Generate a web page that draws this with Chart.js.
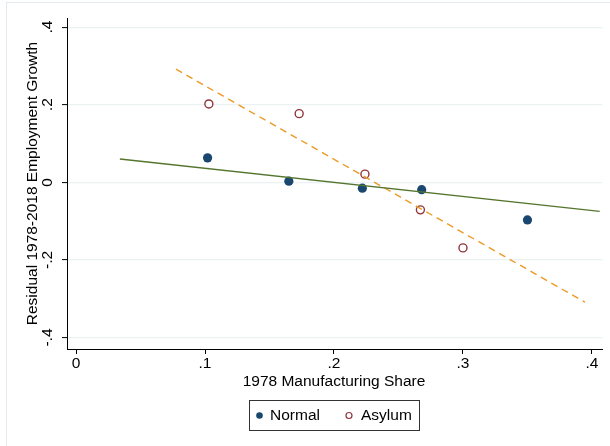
<!DOCTYPE html>
<html>
<head>
<meta charset="utf-8">
<script src="https://cdn.jsdelivr.net/npm/chart.js@4"></script>
<style>
  html, body { margin: 0; padding: 0; background: #ffffff; }
  #wrap { width: 610px; height: 446px; }
</style>
</head>
<body>
<div id="wrap"><canvas id="fitChart" width="610" height="446"></canvas></div>
<script>
// values
let normalX = [0.102, 0.165, 0.222, 0.268, 0.350];
let normalY = [0.063, 0.003, -0.015, -0.019, -0.097];
let asylumX = [0.103, 0.173, 0.224, 0.267, 0.300];
let asylumY = [0.202, 0.177, 0.021, -0.071, -0.169];

// fitted lines (end points)
let normalFitX = [0.034, 0.406];
let normalFitY = [0.060, -0.075];
let asylumFitX = [0.0775, 0.3946];
let asylumFitY = [0.2915, -0.309];

let xTicks = [0, 0.1, 0.2, 0.3, 0.4];
let yTicks = [-0.4, -0.2, 0, 0.2, 0.4];
let xTickLabels = ['0', '.1', '.2', '.3', '.4'];
let yTickLabels = ['-.4', '-.2', '0', '.2', '.4'];

let xTitle = '1978 Manufacturing Share';
let yTitle = 'Residual 1978-2018 Employment Growth';

let navy = '#1a476f';
let maroon = '#90353b';
let green = '#55752f';
let orange = '#ec9a26';
let font = "'Liberation Sans', Arial, sans-serif";
let fontSize = 15.5;

function toPoints(xs, ys) {
    return xs.map((x, i) => ({x : x, y : ys[i]}));
}

let extras = {
    id : 'extras',
    beforeDraw(chart) {
        let ctx = chart.ctx;
        ctx.save();
        ctx.strokeStyle = '#e3ebee';
        ctx.lineWidth = 1;
        ctx.strokeRect(6.5, 2.5, 620, 460);
        ctx.restore();
    },
    afterDraw(chart) {
        let ctx = chart.ctx;
        let ys = chart.scales.y;
        let xs = chart.scales.x;
        let area = chart.chartArea;
        ctx.save();
        ctx.fillStyle = '#000';
        ctx.font = fontSize + 'px ' + font;
        ctx.textAlign = 'center';
        ctx.textBaseline = 'middle';

        // rotated y tick labels
        yTicks.forEach((v, i) => {
            let py = ys.getPixelForValue(v);
            ctx.save();
            ctx.translate(48, py);
            ctx.rotate(-Math.PI / 2);
            ctx.fillText(yTickLabels[i], 0, 0);
            ctx.restore();
        });

        // axis titles
        ctx.save();
        ctx.translate(33, (area.top + area.bottom) / 2);
        ctx.rotate(-Math.PI / 2);
        ctx.fillText(yTitle, 0, 0);
        ctx.restore();
        ctx.fillText(xTitle, (xs.getPixelForValue(xTicks[0]) + xs.getPixelForValue(xTicks[4])) / 2, 382);

        // legend
        let bx = 249.5, by = 400.5, bw = 170, bh = 30;
        ctx.strokeStyle = '#333';
        ctx.lineWidth = 1;
        ctx.strokeRect(bx, by, bw, bh);
        let ly = by + bh / 2;
        ctx.beginPath();
        ctx.arc(259.5, ly, 3.3, 0, Math.PI * 2);
        ctx.fillStyle = navy;
        ctx.fill();
        ctx.beginPath();
        ctx.arc(349, ly, 3, 0, Math.PI * 2);
        ctx.strokeStyle = maroon;
        ctx.lineWidth = 1.2;
        ctx.stroke();
        ctx.fillStyle = '#000';
        ctx.textAlign = 'left';
        ctx.fillText(chart.data.datasets[2].label, 270, ly + 0.5);
        ctx.fillText(chart.data.datasets[3].label, 361, ly + 0.5);
        ctx.restore();
    }
};

let config = {
    type : 'scatter',
    data : {
        datasets : [{
            label : 'Normal fit',
            type : 'line',
            data : toPoints(normalFitX, normalFitY),
            borderColor : green,
            borderWidth : 1.4,
            pointRadius : 0,
            fill : false
        }, {
            label : 'Asylum fit',
            type : 'line',
            data : toPoints(asylumFitX, asylumFitY),
            borderColor : orange,
            borderWidth : 1.4,
            borderDash : [7, 5],
            pointRadius : 0,
            fill : false
        }, {
            label : 'Normal',
            data : toPoints(normalX, normalY),
            backgroundColor : navy,
            borderColor : navy,
            borderWidth : 0,
            pointRadius : 4.6
        }, {
            label : 'Asylum',
            data : toPoints(asylumX, asylumY),
            backgroundColor : '#ffffff',
            borderColor : maroon,
            borderWidth : 1.4,
            pointRadius : 4
        }]
    },
    options : {
        responsive : false,
        animation : false,
        layout : {padding : {top : 18, right : 8, bottom : 0, left : 0}},
        plugins : {
            legend : {display : false},
            tooltip : {enabled : false}
        },
        scales : {
            x : {
                type : 'linear',
                min : -0.007,
                max : 0.4078,
                afterBuildTicks : s => { s.ticks = xTicks.map(v => ({value : v})); },
                afterFit : s => { s.height = 97; },
                grid : {color : 'transparent', tickColor : '#000', tickLength : 5, tickWidth : 1},
                border : {display : true, color : '#000', width : 1},
                ticks : {
                    color : '#000',
                    font : {family : font, size : fontSize},
                    padding : 0,
                    maxRotation : 0,
                    callback : (v, i) => xTickLabels[i]
                }
            },
            y : {
                type : 'linear',
                min : -0.4296,
                max : 0.4235,
                afterBuildTicks : s => { s.ticks = yTicks.map(v => ({value : v})); },
                afterFit : s => { s.width = 67; },
                grid : {color : '#eaf2f3', lineWidth : 1.2, tickColor : '#000', tickLength : 5, tickWidth : 1},
                border : {display : true, color : '#000', width : 1},
                ticks : {display : false}
            }
        }
    },
    plugins : [extras]
};

let chart = new Chart(document.getElementById('fitChart').getContext('2d'), config);
</script>
</body>
</html>
